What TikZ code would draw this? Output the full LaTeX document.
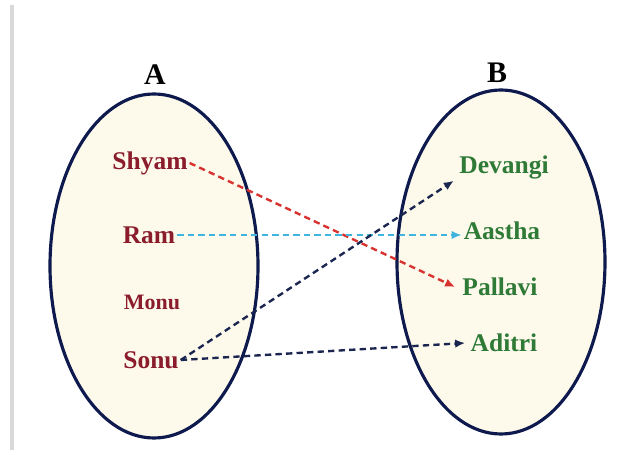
\documentclass[tikz,border=0pt]{standalone}
\usepackage{fontspec}
\setmainfont{Liberation Serif}
\usetikzlibrary{arrows.meta}
\definecolor{setline}{HTML}{0E1A4D}
\definecolor{setfill}{HTML}{FDFAEC}
\definecolor{domcol}{HTML}{8B1C2C}
\definecolor{codcol}{HTML}{2E7A36}
\definecolor{redline}{HTML}{D8322E}
\definecolor{cyanline}{HTML}{3FB4DE}
\definecolor{navyline}{HTML}{1A2550}
\tikzset{
    setoval/.style={draw=setline, fill=setfill, line width=1.8pt},
    settitle/.style={inner sep=1pt, font=\fontsize{17}{19}\selectfont\bfseries},
    domnode/.style={inner sep=1pt, text=domcol, font=\fontsize{14.5}{16}\selectfont\bfseries},
    codnode/.style={inner sep=1pt, text=codcol, font=\fontsize{14.5}{16}\selectfont\bfseries},
    maparrow/.style={->, line width=1.35pt, dash pattern=on 3.6pt off 2.4pt}
}

\begin{document}
\begin{tikzpicture}[>={Latex[length=2mm, width=1.7mm]}]
  \useasboundingbox (0,0) rectangle (12.6,-9.1);
  \draw[line width=2pt, color=gray!30] (0.24,-0.10) -- (0.24,-9.00);
  \draw[setoval] (3.08,-5.32) ellipse [x radius=2.08, y radius=3.44];
  \draw[setoval] (10.02,-5.24) ellipse [x radius=2.08, y radius=3.44];
  \node[settitle] (setA) at (3.10, -1.50) {A};
  \node[settitle] (setB) at (9.94, -1.46) {B};
  \node[domnode] (shyam) at (3.00, -3.26) {Shyam};
  \node[domnode] (ram) at (2.98, -4.70) {Ram};
  \node[domnode, font=\fontsize{12.5}{14}\selectfont\bfseries] (monu) at (3.04, -6.04) {Monu};
  \node[domnode] (sonu) at (3.02, -7.20) {Sonu};
  \node[codnode] (devangi) at (10.08, -3.34) {Devangi};
  \node[codnode] (aastha) at (10.04, -4.62) {Aastha};
  \node[codnode] (pallavi) at (10.00, -5.74) {Pallavi};
  \node[codnode] (aditri) at (10.08, -6.86) {Aditri};
  \draw[maparrow, redline] (shyam.east) -- ([xshift=-3pt]pallavi.west);
  \draw[maparrow, cyanline] (ram.east) -- (ram.east -| aastha.west);
  \draw[maparrow, navyline] (sonu.east) -- ([xshift=-2pt]devangi.south west);
  \draw[maparrow, navyline] (sonu.east) -- ([xshift=-2pt]aditri.west);
\end{tikzpicture}
\end{document}
